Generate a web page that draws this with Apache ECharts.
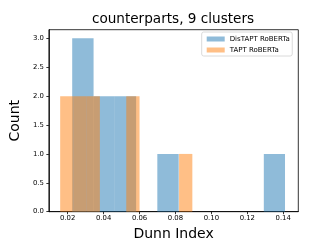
<!DOCTYPE html>
<html>
<head>
<meta charset="utf-8">
<script src="https://cdn.jsdelivr.net/npm/echarts@6/dist/echarts.min.js"></script>
<style>
html,body{margin:0;padding:0;background:#fff;}
#chart{width:332px;height:249px;}
</style>
</head>
<body>
<div id="chart"></div>
<script>
const titleText = 'counterparts, 9 clusters';
const xLabel = 'Dunn Index';
const yLabel = 'Count';
const seriesNames = ['DisTAPT RoBERTa', 'TAPT RoBERTa'];
const distaptEdges = [0.0225, 0.0344, 0.0462, 0.0581, 0.0699, 0.0818, 0.0936, 0.1055, 0.1173, 0.1292, 0.1410];
const distaptCounts = [3, 2, 2, 0, 1, 0, 0, 0, 0, 1];
const taptEdges = [0.0158, 0.0232, 0.0305, 0.0379, 0.0452, 0.0526, 0.0600, 0.0673, 0.0747, 0.0820, 0.0894];
const taptCounts = [2, 2, 2, 0, 0, 2, 0, 0, 0, 1];
const xTicks = [0.02, 0.04, 0.06, 0.08, 0.10, 0.12, 0.14];
const yTicks = [0.0, 0.5, 1.0, 1.5, 2.0, 2.5, 3.0];

function binData(edges, counts) {
  return counts.map((c, i) => [edges[i], edges[i + 1], c]);
}
function makeRender(fill) {
  return function (params, api) {
    const x0 = api.value(0), x1 = api.value(1), c = api.value(2);
    if (!c) return null;
    const p0 = api.coord([x0, c]);
    const p1 = api.coord([x1, 0]);
    return {
      type: 'rect',
      shape: { x: p0[0], y: p0[1], width: p1[0] - p0[0], height: p1[1] - p0[1] },
      style: { fill: fill }
    };
  };
}
const blue = 'rgba(31,119,180,0.5)';
const orange = 'rgba(255,127,14,0.5)';
const font = 'DejaVu Sans';

const chart = echarts.init(document.getElementById('chart'), null, { renderer: 'canvas' });
chart.setOption({
  animation: false,
  backgroundColor: '#fff',
  textStyle: { fontFamily: font },
  title: {
    text: titleText,
    left: 173, top: 12, textAlign: 'center',
    padding: 0,
    textStyle: { fontFamily: font, fontSize: 13.6, fontWeight: 'normal', color: '#000' }
  },
  legend: {
    orient: 'vertical',
    left: 201.7, top: 32,
    padding: [3.5, 2.5, 2.5, 5],
    itemWidth: 18, itemHeight: 5, itemGap: 4,
    icon: 'rect',
    borderColor: '#d0d0d0', borderWidth: 0.8, borderRadius: 2,
    backgroundColor: 'rgba(255,255,255,0.8)',
    textStyle: { fontFamily: font, fontSize: 7, lineHeight: 7, color: '#000' },
    data: seriesNames
  },
  grid: {
    left: 41.3, top: 29.7, width: 257, height: 182,
    show: true, borderColor: '#000', borderWidth: 0.8, backgroundColor: 'transparent'
  },
  xAxis: {
    type: 'value', min: 0.0095, max: 0.1484,
    name: xLabel, nameLocation: 'middle', nameGap: 14,
    nameTextStyle: { fontFamily: font, fontSize: 14, color: '#000' },
    axisLine: { show: true, lineStyle: { color: '#000', width: 0.8 } },
    axisTick: { show: true, length: 2.5, customValues: xTicks, lineStyle: { color: '#000', width: 0.8 } },
    axisLabel: { customValues: xTicks, formatter: v => v.toFixed(2), fontFamily: font, fontSize: 6.9, color: '#000', margin: 3.5 },
    splitLine: { show: false }
  },
  yAxis: {
    type: 'value', min: 0, max: 3.15,
    name: yLabel, nameLocation: 'middle', nameGap: 20,
    nameTextStyle: { fontFamily: font, fontSize: 14, color: '#000' },
    axisLine: { show: true, lineStyle: { color: '#000', width: 0.8 } },
    axisTick: { show: true, length: 2.5, customValues: yTicks, lineStyle: { color: '#000', width: 0.8 } },
    axisLabel: { customValues: yTicks, formatter: v => v.toFixed(1), fontFamily: font, fontSize: 6.9, color: '#000', margin: 5 },
    splitLine: { show: false }
  },
  series: [
    {
      name: seriesNames[0], type: 'custom', renderItem: makeRender(blue),
      itemStyle: { color: blue }, encode: { x: [0, 1], y: 2 },
      data: binData(distaptEdges, distaptCounts)
    },
    {
      name: seriesNames[1], type: 'custom', renderItem: makeRender(orange),
      itemStyle: { color: orange }, encode: { x: [0, 1], y: 2 },
      data: binData(taptEdges, taptCounts)
    }
  ]
});
</script>
</body>
</html>
